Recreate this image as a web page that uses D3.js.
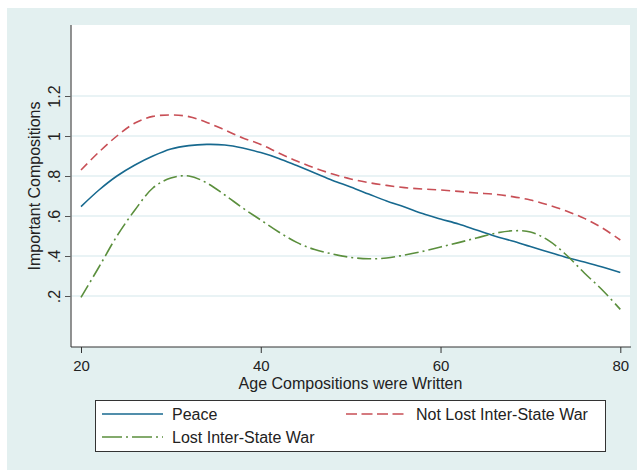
<!DOCTYPE html>
<html>
<head>
<meta charset="utf-8">
<script src="https://cdn.jsdelivr.net/npm/d3@7"></script>
<style>
  html, body { margin: 0; padding: 0; background: #ffffff; }
  svg { display: block; }
  text { font-family: "Liberation Sans", Arial, Helvetica, sans-serif; fill: #222; }
</style>
</head>
<body>
<svg id="chart" width="637" height="470"></svg>
<script>
// Age at which compositions were written
const ages = [20, 22, 24, 26, 28, 30, 32, 34, 36, 38, 40, 42, 44, 46, 48, 50,
              52, 54, 56, 58, 60, 62, 64, 66, 68, 70, 72, 74, 76, 78, 80];

// Smoothed number of important compositions, by group
const peace = [0.647, 0.73, 0.80, 0.855, 0.90, 0.935, 0.952, 0.958, 0.955, 0.94, 0.917,
               0.888, 0.852, 0.815, 0.778, 0.745, 0.71, 0.675, 0.645, 0.612, 0.585,
               0.56, 0.53, 0.50, 0.475, 0.447, 0.42, 0.393, 0.37, 0.345, 0.317];
const notLost = [0.83, 0.92, 1.00, 1.065, 1.098, 1.105, 1.097, 1.068, 1.03, 0.99, 0.958,
                 0.915, 0.875, 0.84, 0.81, 0.785, 0.767, 0.753, 0.742, 0.735, 0.73,
                 0.723, 0.715, 0.709, 0.697, 0.68, 0.655, 0.625, 0.588, 0.54, 0.48];
const lost = [0.193, 0.345, 0.50, 0.63, 0.74, 0.79, 0.80, 0.765, 0.705, 0.64, 0.58,
              0.52, 0.468, 0.432, 0.41, 0.393, 0.386, 0.39, 0.405, 0.423, 0.445,
              0.467, 0.49, 0.513, 0.526, 0.52, 0.478, 0.405, 0.315, 0.23, 0.133];

const xTicks = [20, 40, 60, 80];
const yTicks = [0.2, 0.4, 0.6, 0.8, 1.0, 1.2];
const yTickLabels = [".2", ".4", ".6", ".8", "1", "1.2"];

const seriesNames = ["Peace", "Not Lost Inter-State War", "Lost Inter-State War"];

const svg = d3.select("#chart");

// outer graph region
svg.append("rect").attr("x", 7).attr("y", 8).attr("width", 630).attr("height", 462)
  .attr("fill", "#e3f0f0");

// plot region
const plot = { left: 71, top: 25, right: 630, bottom: 347 };
svg.append("rect")
  .attr("x", plot.left).attr("y", plot.top)
  .attr("width", plot.right - plot.left).attr("height", plot.bottom - plot.top)
  .attr("fill", "#ffffff");

const x = d3.scaleLinear().domain([20, 80]).range([81, 620.3]);
const y = d3.scaleLinear().domain([0.2, 1.2]).range([296, 96]);

// horizontal grid lines
svg.append("g").selectAll("line").data(yTicks).join("line")
  .attr("x1", plot.left).attr("x2", plot.right)
  .attr("y1", d => y(d)).attr("y2", d => y(d))
  .attr("stroke", "#e2eff2").attr("stroke-width", 1.6);

// y axis
const yAxis = svg.append("g").attr("transform", `translate(${plot.left},0)`)
  .call(d3.axisLeft(y).tickValues(yTicks).tickSize(6)
    .tickFormat((d, i) => yTickLabels[i]));
yAxis.select(".domain").remove();
yAxis.selectAll(".tick line").attr("stroke", "#555");
yAxis.selectAll(".tick text")
  .attr("transform", "rotate(-90)")
  .attr("x", 0).attr("y", -11).attr("dy", 0)
  .attr("text-anchor", "middle")
  .style("font-size", "16px").style("font-family", "'Liberation Sans', Arial, sans-serif")
  .attr("fill", "#222");
svg.append("line").attr("x1", plot.left).attr("x2", plot.left)
  .attr("y1", plot.top).attr("y2", plot.bottom)
  .attr("stroke", "#777").attr("stroke-width", 1.6);

// x axis
const xAxis = svg.append("g").attr("transform", `translate(0,${plot.bottom})`)
  .call(d3.axisBottom(x).tickValues(xTicks).tickSize(6).tickFormat(d3.format("d")));
xAxis.select(".domain").remove();
xAxis.selectAll(".tick line").attr("stroke", "#333");
xAxis.selectAll(".tick text")
  .attr("y", 23.5).attr("dy", 0)
  .style("font-size", "15px").style("font-family", "'Liberation Sans', Arial, sans-serif")
  .attr("fill", "#222");
svg.append("line").attr("x1", plot.left).attr("x2", plot.right + 1)
  .attr("y1", plot.bottom).attr("y2", plot.bottom)
  .attr("stroke", "#333").attr("stroke-width", 1.2);

// axis titles
svg.append("text")
  .attr("x", (plot.left + plot.right) / 2).attr("y", 389)
  .attr("text-anchor", "middle").style("font-size", "16px")
  .text("Age Compositions were Written");
svg.append("text")
  .attr("transform", `translate(40,${(plot.top + plot.bottom) / 2}) rotate(-90)`)
  .attr("text-anchor", "middle").style("font-size", "16px")
  .text("Important Compositions");

// series styling
const styles = [
  { color: "#17698f", dash: null },
  { color: "#c84f56", dash: "9,5" },
  { color: "#5b8f3d", dash: "14,4,2,4" }
];
const seriesValues = [peace, notLost, lost];

const line = d3.line()
  .x((d, i) => x(ages[i]))
  .y(d => y(d))
  .curve(d3.curveCatmullRom.alpha(0.5));

svg.append("g").selectAll("path").data(seriesValues).join("path")
  .attr("d", d => line(d))
  .attr("fill", "none")
  .attr("stroke", (d, i) => styles[i].color)
  .attr("stroke-width", 1.6)
  .attr("stroke-dasharray", (d, i) => styles[i].dash);

// legend
const legend = svg.append("g");
legend.append("rect")
  .attr("x", 95.5).attr("y", 400.5).attr("width", 510).attr("height", 51)
  .attr("fill", "#ffffff").attr("stroke", "#333").attr("stroke-width", 1);

const legendItems = [
  { name: seriesNames[0], s: 0, x: 102, y: 414 },
  { name: seriesNames[1], s: 1, x: 346, y: 414 },
  { name: seriesNames[2], s: 2, x: 102, y: 437 }
];
legendItems.forEach(it => {
  legend.append("line")
    .attr("x1", it.x).attr("x2", it.x + 61)
    .attr("y1", it.y).attr("y2", it.y)
    .attr("stroke", styles[it.s].color).attr("stroke-width", 1.6)
    .attr("stroke-dasharray", it.s === 1 ? "11,4.5" : it.s === 2 ? "20,4,2,4" : null);
  legend.append("text")
    .attr("x", it.x + 70).attr("y", it.y + 6)
    .style("font-size", "16px")
    .text(it.name);
});
</script>
</body>
</html>
